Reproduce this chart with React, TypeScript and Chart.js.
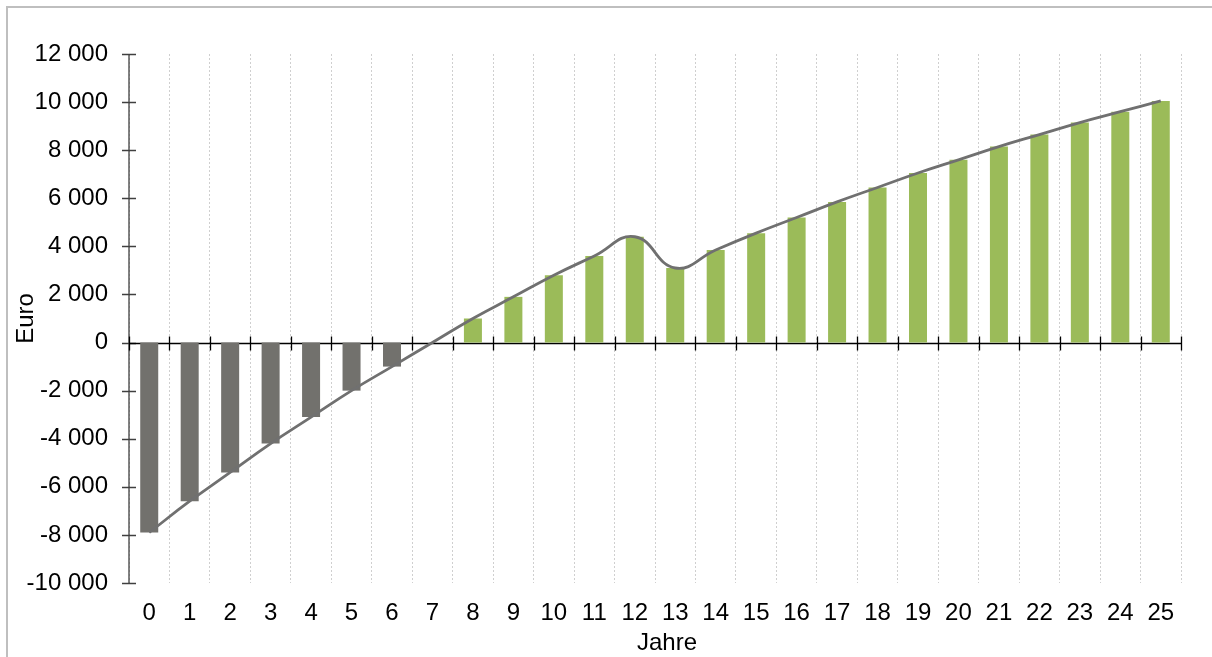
import React, { useEffect, useRef } from "react";
import { Chart, registerables } from "chart.js";

Chart.register(...registerables);

const years: string[] = [
  "0", "1", "2", "3", "4", "5", "6", "7", "8", "9", "10", "11", "12",
  "13", "14", "15", "16", "17", "18", "19", "20", "21", "22", "23", "24", "25",
];

// Net cash position per year (Euro)
const netValues: number[] = [
  -7900, -6600, -5400, -4200, -3100, -2000, -1000, 0, 1000, 1900, 2800, 3600, 4400,
  3100, 3850, 4550, 5200, 5850, 6450, 7050, 7600, 8150, 8650, 9150, 9600, 10050,
];

// Trend curve (smoothed line through the same points)
const trendValues: number[] = [
  -7900, -6600, -5400, -4200, -3100, -2000, -1000, 0, 1000, 1900, 2800, 3600, 4400,
  3100, 3850, 4550, 5200, 5850, 6450, 7050, 7600, 8150, 8650, 9150, 9600, 10050,
];

const yMin = -10000;
const yMax = 12000;
const yStep = 2000;

const xTitle = "Jahre";
const yTitle = "Euro";

const FONT = "'Liberation Sans', Arial, sans-serif";

function formatEuro(v: number): string {
  const neg = v < 0;
  const s = Math.abs(Math.round(v)).toString().replace(/\B(?=(\d{3})+(?!\d))/g, " ");
  return (neg ? "-" : "") + s;
}

const framePlugin = {
  id: "frame",
  beforeDraw(chart: any) {
    const ctx = chart.ctx;
    ctx.save();
    ctx.fillStyle = "#ffffff";
    ctx.fillRect(0, 0, chart.width, chart.height);
    ctx.strokeStyle = "#bfbfbf";
    ctx.lineWidth = 2;
    ctx.beginPath();
    ctx.moveTo(7, chart.height);
    ctx.lineTo(7, 7);
    ctx.lineTo(chart.width, 7);
    ctx.stroke();
    ctx.restore();
  },
  afterDraw(chart: any) {
    const ctx = chart.ctx;
    const area = chart.chartArea;
    ctx.save();
    ctx.fillStyle = "#000000";
    ctx.font = `24px ${FONT}`;
    ctx.textAlign = "center";
    ctx.textBaseline = "middle";
    ctx.fillText(xTitle, (area.left + area.right) / 2 + 12, 643);
    ctx.restore();
  },
};

const axesPlugin = {
  id: "axesCross",
  beforeDatasetsDraw(chart: any) {
    const ctx = chart.ctx;
    const area = chart.chartArea;
    const y = chart.scales.y;
    const tl = 7;
    ctx.save();
    // y axis
    ctx.strokeStyle = "#404040";
    ctx.lineWidth = 1.3;
    ctx.beginPath();
    ctx.moveTo(area.left, area.top);
    ctx.lineTo(area.left, area.bottom);
    y.ticks.forEach((t: any) => {
      const py = Math.round(y.getPixelForValue(t.value)) + 0.5;
      ctx.moveTo(area.left - tl, py);
      ctx.lineTo(area.left + tl, py);
    });
    ctx.stroke();
    // zero axis
    const y0 = Math.round(y.getPixelForValue(0)) + 0.5;
    ctx.strokeStyle = "#000000";
    ctx.beginPath();
    ctx.moveTo(area.left, y0);
    ctx.lineTo(area.right, y0);
    const n = years.length;
    for (let i = 0; i <= n; i++) {
      const px = Math.round(area.left + ((area.right - area.left) * i) / n) + 0.5;
      ctx.moveTo(px, y0 - tl);
      ctx.lineTo(px, y0 + tl);
    }
    ctx.stroke();
    ctx.restore();
  },
};

export default function App() {
  const ref = useRef<HTMLCanvasElement | null>(null);

  useEffect(() => {
    if (!ref.current) return;
    const chart = new Chart(ref.current, {
      type: "bar",
      data: {
        labels: years,
        datasets: [
          {
            type: "line",
            label: "Trend",
            data: trendValues,
            borderColor: "#707070",
            borderWidth: 2.8,
            pointRadius: 0,
            tension: 0.45,
            fill: false,
            order: 0,
          } as any,
          {
            type: "bar",
            label: "Euro",
            data: netValues,
            backgroundColor: netValues.map((v) => (v < 0 ? "#72716d" : "#9bbb59")),
            borderWidth: 0,
            categoryPercentage: 1,
            barPercentage: 0.445,
            order: 1,
          } as any,
        ],
      },
      options: {
        responsive: false,
        animation: false,
        devicePixelRatio: 1,
        layout: { padding: { left: 0, right: 31, top: 54, bottom: 0 } },
        plugins: {
          legend: { display: false },
          tooltip: { enabled: false },
        },
        scales: {
          x: {
            type: "category",
            offset: true,
            grid: {
              display: true,
              offset: true,
              color: "#cfcfcf",
              lineWidth: 1,
              drawTicks: false,
            },
            border: { display: false, dash: [2, 2] } as any,
            ticks: {
              color: "#000000",
              font: { family: FONT, size: 24 },
              padding: 16,
              maxRotation: 0,
              autoSkip: false,
            },
            title: { display: false, text: xTitle },
            afterFit(scale: any) {
              scale.height = 74;
            },
          },
          y: {
            type: "linear",
            min: yMin,
            max: yMax,
            grid: { display: false, drawTicks: false },
            border: { display: false },
            ticks: {
              stepSize: yStep,
              color: "#000000",
              font: { family: FONT, size: 24 },
              padding: 21,
              callback: (v: any) => formatEuro(Number(v)),
            },
            title: {
              display: true,
              text: yTitle,
              color: "#000000",
              font: { family: FONT, size: 24 },
              padding: { top: 12, bottom: 0 },
            },
            afterFit(scale: any) {
              scale.width = 129;
            },
          },
        },
      },
      plugins: [framePlugin, axesPlugin],
    });
    return () => chart.destroy();
  }, []);

  return (
    <div style={{ position: "absolute", left: 0, top: 0, width: 1212, height: 657 }}>
      <canvas ref={ref} width={1212} height={657} style={{ width: 1212, height: 657 }} />
    </div>
  );
}
